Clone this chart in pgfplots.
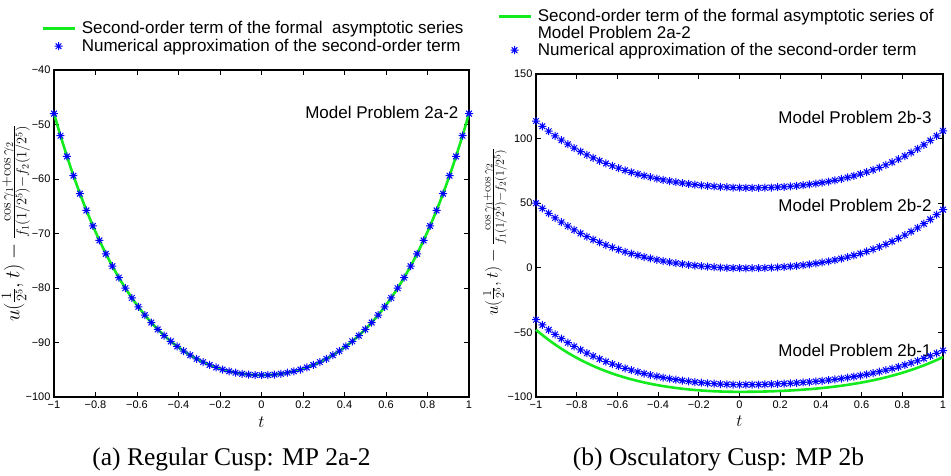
\documentclass[border=0pt]{standalone}
\usepackage{pgfplots}
\pgfplotsset{compat=1.18}
\usepackage{pgfplotstable}
\usepackage[no-math]{fontspec}
\setmainfont{Liberation Sans}
\newfontfamily\capfont{Liberation Serif}
\definecolor{mgreen}{RGB}{20,235,30}
\definecolor{mblue}{RGB}{0,0,255}

\pgfdeclareplotmark{mstar}{%
  \pgfpathmoveto{\pgfqpoint{-\pgfplotmarksize}{0pt}}\pgfpathlineto{\pgfqpoint{\pgfplotmarksize}{0pt}}%
  \pgfpathmoveto{\pgfqpoint{0pt}{-\pgfplotmarksize}}\pgfpathlineto{\pgfqpoint{0pt}{\pgfplotmarksize}}%
  \pgfpathmoveto{\pgfqpoint{-0.707\pgfplotmarksize}{-0.707\pgfplotmarksize}}\pgfpathlineto{\pgfqpoint{0.707\pgfplotmarksize}{0.707\pgfplotmarksize}}%
  \pgfpathmoveto{\pgfqpoint{-0.707\pgfplotmarksize}{0.707\pgfplotmarksize}}\pgfpathlineto{\pgfqpoint{0.707\pgfplotmarksize}{-0.707\pgfplotmarksize}}%
  \pgfusepathqstroke}

% t, green (panel a), top, mid, bot, green (panel b)
\pgfplotstableread{
t g top mid bot gb
-1 -48.000 113.60 50.00 -40.20 -48.000
-0.96875 -52.062 109.52 45.97 -44.23 -52.062
-0.9375 -55.856 105.70 42.18 -48.02 -55.856
-0.90625 -59.396 102.12 38.64 -51.56 -59.396
-0.875 -62.695 98.76 35.33 -54.87 -62.695
-0.84375 -65.766 95.63 32.23 -57.97 -65.766
-0.8125 -68.620 92.69 29.34 -60.86 -68.620
-0.78125 -71.269 89.96 26.64 -63.56 -71.269
-0.75 -73.725 87.41 24.13 -66.07 -73.725
-0.71875 -75.998 85.03 21.80 -68.40 -75.998
-0.6875 -78.098 82.82 19.63 -70.57 -78.098
-0.65625 -80.036 80.76 17.61 -72.59 -80.036
-0.625 -81.820 78.86 15.74 -74.46 -81.820
-0.59375 -83.461 77.09 14.02 -76.18 -83.461
-0.5625 -84.965 75.46 12.42 -77.78 -84.965
-0.53125 -86.343 73.94 10.95 -79.25 -86.343
-0.5 -87.600 72.55 9.60 -80.60 -87.600
-0.46875 -88.745 71.27 8.36 -81.84 -88.745
-0.4375 -89.784 70.09 7.22 -82.98 -89.784
-0.40625 -90.724 69.01 6.18 -84.02 -90.724
-0.375 -91.570 68.02 5.23 -84.97 -91.570
-0.34375 -92.329 67.12 4.37 -85.83 -92.329
-0.3125 -93.004 66.30 3.60 -86.60 -93.004
-0.28125 -93.602 65.57 2.90 -87.30 -93.602
-0.25 -94.125 64.91 2.28 -87.92 -94.125
-0.21875 -94.578 64.32 1.73 -88.47 -94.578
-0.1875 -94.964 63.80 1.25 -88.95 -94.964
-0.15625 -95.285 63.34 0.84 -89.36 -95.285
-0.125 -95.545 62.95 0.49 -89.71 -95.545
-0.09375 -95.745 62.62 0.20 -90.00 -95.745
-0.0625 -95.887 62.36 -0.03 -90.23 -95.887
-0.03125 -95.972 62.15 -0.19 -90.39 -95.972
0 -96.000 62.00 -0.30 -90.50 -96.000
0.03125 -95.972 61.91 -0.35 -90.48 -95.98
0.0625 -95.887 61.88 -0.34 -90.43 -95.94
0.09375 -95.745 61.91 -0.27 -90.35 -95.86
0.125 -95.545 62.00 -0.14 -90.24 -95.75
0.15625 -95.285 62.15 0.06 -90.09 -95.60
0.1875 -94.964 62.37 0.31 -89.90 -95.42
0.21875 -94.578 62.65 0.64 -89.68 -95.20
0.25 -94.125 63.01 1.03 -89.42 -94.95
0.28125 -93.602 63.43 1.50 -89.12 -94.66
0.3125 -93.004 63.93 2.04 -88.77 -94.32
0.34375 -92.329 64.51 2.66 -88.39 -93.94
0.375 -91.570 65.17 3.36 -87.95 -93.52
0.40625 -90.724 65.92 4.15 -87.47 -93.05
0.4375 -89.784 66.76 5.03 -86.94 -92.52
0.46875 -88.745 67.71 6.01 -86.35 -91.94
0.5 -87.600 68.75 7.10 -85.71 -91.30
0.53125 -86.343 69.91 8.30 -85.00 -90.59
0.5625 -84.965 71.18 9.61 -84.23 -89.82
0.59375 -83.461 72.58 11.05 -83.39 -88.98
0.625 -81.820 74.11 12.62 -82.48 -88.06
0.65625 -80.036 75.78 14.33 -81.49 -87.06
0.6875 -78.098 77.59 16.19 -80.41 -85.98
0.71875 -75.998 79.57 18.20 -79.26 -84.80
0.75 -73.725 81.71 20.38 -78.00 -83.53
0.78125 -71.269 84.02 22.74 -76.66 -82.15
0.8125 -68.620 86.52 25.28 -75.21 -80.67
0.84375 -65.766 89.21 28.01 -73.65 -79.07
0.875 -62.695 92.11 30.95 -71.98 -77.35
0.90625 -59.396 95.23 34.11 -70.18 -75.50
0.9375 -55.856 98.58 37.50 -68.26 -73.52
0.96875 -52.062 102.16 41.12 -66.21 -71.40
1 -48.000 106.00 45.00 -64.02 -69.12
}\data

\pgfplotsset{
  common/.style={
    scale only axis, anchor=south west,
    xmin=-1, xmax=1, clip=false,
    axis line style={line width=1.2pt},
    tick align=inside, major tick length=5pt,
    tick style={black, line width=0.8pt},
    xtick={-1,-0.8,-0.6,-0.4,-0.2,0,0.2,0.4,0.6,0.8,1},
    xticklabels={−1,−0.8,−0.6,−0.4,−0.2,0,0.2,0.4,0.6,0.8,1},
    tick label style={font=\fontsize{11}{13}\selectfont},
    xlabel={$t$},
    every axis x label/.style={at={(axis description cs:0.5,-0.0755)}, anchor=center, font=\fontsize{16}{18}\selectfont},
    ylabel={$u(\frac{1}{2^5},t)-\frac{\cos\gamma_1+\cos\gamma_2}{f_1(1/2^5)-f_2(1/2^5)}$},
    legend cell align=left,
    legend style={draw=none, fill=none, inner sep=0pt, column sep=6pt, row sep=4pt,
      font=\fontsize{17}{17}\selectfont, nodes={inner sep=0pt}},
  },
  gline/.style={mgreen, line width=2.6pt,
    legend image code/.code={\draw[##1] (0pt,0pt) -- (32pt,0pt);}},
  sstar/.style={only marks, mark=mstar, mark size=4pt, mark options={draw=mblue, line width=1pt},
    legend image code/.code={\path (0pt,0pt) (32pt,0pt); \draw[##1] plot coordinates {(16pt,0pt)};}},
}

\begin{document}
\begin{tikzpicture}
\useasboundingbox (0pt,0pt) rectangle (951pt,475pt);
\begin{axis}[common, at={(54pt,78pt)}, width=415pt, height=327pt,
  ymin=-100, ymax=-40, ytick={-100,-90,-80,-70,-60,-50,-40},
  yticklabels={−100,−90,−80,−70,−60,−50,−40},
  every axis y label/.style={at={(axis description cs:-0.0916,0.5306)}, rotate=90, anchor=center, font=\fontsize{20}{24}\selectfont},
  legend style={at={(axis description cs:-0.0313,1.149)}, anchor=north west}]
\addplot[gline] table[x=t,y=g] {\data};
\addlegendentry{Second-order term of the formal~~asymptotic series}
\addplot[sstar] table[x=t,y=g] {\data};
\addlegendentry{Numerical approximation of the second-order term}
\node[anchor=east, font=\fontsize{17}{17}\selectfont] at (axis cs:0.966,-47.7) {Model Problem 2a-2};
\end{axis}

\begin{axis}[common, at={(536pt,78pt)}, width=407pt, height=323pt,
  ymin=-100, ymax=150, ytick={-100,-50,0,50,100,150},
  yticklabels={−100,−50,0,50,100,150},
  every axis y label/.style={at={(axis description cs:-0.1007,0.511)}, rotate=90, anchor=center, font=\fontsize{18}{22}\selectfont},
  legend style={at={(axis description cs:-0.0958,1.20)}, anchor=north west, row sep=3pt}]
\addplot[gline] table[x=t,y=gb] {\data};
\addlegendentry{Second-order term of the formal asymptotic series of}
\addlegendimage{empty legend}
\addlegendentry{Model Problem 2a-2}
\addplot[sstar] table[x=t,y=top] {\data};
\addlegendentry{Numerical approximation of the second-order term}
\addplot[sstar, forget plot] table[x=t,y=mid] {\data};
\addplot[sstar, forget plot] table[x=t,y=bot] {\data};
\node[anchor=east, font=\fontsize{17}{17}\selectfont] at (axis cs:0.961,116.7) {Model Problem 2b-3};
\node[anchor=east, font=\fontsize{17}{17}\selectfont] at (axis cs:0.961,48.6) {Model Problem 2b-2};
\node[anchor=east, font=\fontsize{17}{17}\selectfont] at (axis cs:0.961,-63.6) {Model Problem 2b-1};
\end{axis}

\node[anchor=base, font=\capfont\fontsize{25.5}{30}\selectfont] at (231.5pt,10pt) {(a) Regular Cusp: MP 2a-2};
\node[anchor=base, font=\capfont\fontsize{25.5}{30}\selectfont] at (718.5pt,10pt) {(b) Osculatory Cusp: MP 2b};
\end{tikzpicture}
\end{document}
